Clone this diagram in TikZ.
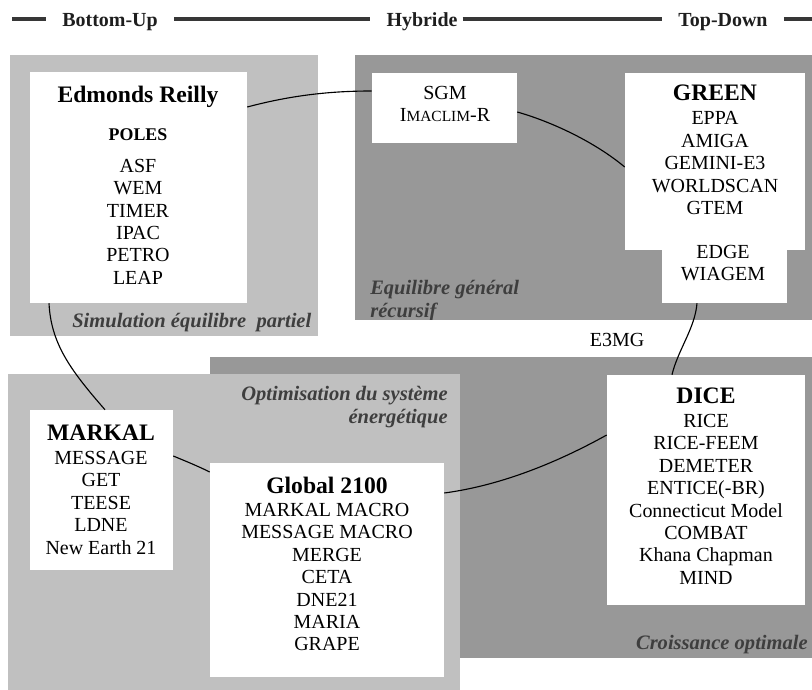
\documentclass[tikz,border=0pt]{standalone}
\usepackage{fontspec}
\setmainfont{Liberation Serif}
\usetikzlibrary{fit}

\begin{document}
\begin{tikzpicture}[x=0.025cm,y=-0.025cm,
    box/.style={fill=white,inner sep=0},
    txt/.style={font=\fontsize{14.2}{16}\selectfont,align=center,inner sep=0,anchor=north},
    ttl/.style={font=\fontsize{16.8}{18}\selectfont\bfseries,inner sep=0,anchor=base},
    zone/.style={font=\fontsize{14.6}{16.4}\selectfont\bfseries\itshape,text=zonetxt,inner sep=0},
    hdr/.style={font=\fontsize{14.2}{16}\selectfont\bfseries,text=hdrtxt,inner xsep=11.4pt,inner ysep=0,text height=11pt,text depth=0pt},
    hline/.style={line width=2.8pt,draw=hdrline},
    link/.style={line width=0.8pt}]
    \definecolor{light}{RGB}{192,192,192}
    \definecolor{dark}{RGB}{152,152,152}
    \definecolor{zonetxt}{RGB}{62,62,62}
    \definecolor{hdrtxt}{RGB}{30,30,30}
    \definecolor{hdrline}{RGB}{55,55,55}
    \useasboundingbox (0,0) rectangle (812,690);

    % header
    \node[hdr] (bu) at (110,19) {Bottom-Up};
    \node[hdr] (hy) at (422,19) {Hybride};
    \node[hdr] (td) at (723,19) {Top-Down};
    \coordinate (hl) at (12,19);
    \coordinate (hr) at (812,19);
    \draw[hline] (hl) -- (bu.west);
    \draw[hline] (bu.east) -- (hy.west);
    \draw[hline] ([xshift=-8pt]hy.east) -- (td.west);
    \draw[hline] (td.east) -- (hr);

    % zones
    \fill[light] (10,55) rectangle (318,336);
    \fill[dark] (355,55) rectangle (812,320);
    \fill[dark] (210,357) rectangle (812,658);
    \fill[light] (8,374) rectangle (460,690);

    \node[zone,anchor=base west] (sim) at (72,328) {Simulation équilibre\ \ partiel};
    \begin{scope}
      \clip (355,55) rectangle (812,320);
      \node[zone,align=left,anchor=north west] (egr) at (370,280) {Equilibre général\\récursif};
    \end{scope}
    \node[zone,align=right,anchor=north east] (opt) at (448,386) {Optimisation du système\\énergétique};
    \node[zone,anchor=base east] (co) at (808,649) {Croissance optimale};

    % model boxes
    \node[box,fit={(30,72)(247,303)}] (er) {};
    \node[box,fit={(372,73)(517,143)}] (sgm) {};
    \node[box,fit={(625,73)(805,250)}] (green) {};
    \node[box,fit={(662,249)(787,303)}] (edge) {};
    \node[box,fit={(30,410)(173,570)}] (markal) {};
    \node[box,fit={(210,463)(444,677)}] (global) {};
    \node[box,fit={(607,375)(805,605)}] (dice) {};

    \node[ttl] (er-t) at (138,103) {Edmonds Reilly};
    \node[ttl,font=\fontsize{12.7}{14}\selectfont\bfseries] (poles) at (138,141) {POLES};
    \node[txt] (er-l) at (138,158.5) {ASF\\WEM\\TIMER\\IPAC\\PETRO\\LEAP};

    \node[txt] (sgm-l) at (445,85.5) {SGM\\I{\fontsize{11}{16}\selectfont MACLIM}-R};

    \node[ttl] (green-t) at (715,101) {GREEN};
    \node[txt] (green-l) at (715,111.5) {EPPA\\AMIGA\\GEMINI-E3\\WORLDSCAN\\GTEM};
    \node[txt] (edge-l) at (723,244.5) {EDGE\\WIAGEM};

    \node[ttl] (markal-t) at (101,440) {MARKAL};
    \node[txt] (markal-l) at (101,450.5) {MESSAGE\\GET\\TEESE\\LDNE\\New Earth 21};

    \node[ttl] (global-t) at (327,493) {Global 2100};
    \node[txt] (global-l) at (327,502.5) {MARKAL MACRO\\MESSAGE MACRO\\MERGE\\CETA\\DNE21\\MARIA\\GRAPE};

    \node[ttl] (dice-t) at (706,403) {DICE};
    \node[txt] (dice-l) at (706,413.5) {RICE\\RICE-FEEM\\DEMETER\\ENTICE(-BR)\\Connecticut Model\\COMBAT\\Khana Chapman\\MIND};

    \node[font=\fontsize{14.2}{16}\selectfont,anchor=base,inner sep=0] (e3mg) at (617,347) {E3MG};

    % links
    \draw[link] (er.east |- 0,107) .. controls +(45,-12) and +(-40,0) .. (sgm.west |- 0,91);
    \draw[link] (sgm.east |- 0,112) .. controls +(35,10) and +(-30,-25) .. (green.west |- 0,167);
    \draw[link] (edge.south -| 697,0) .. controls +(-2,25) and +(6,-25) .. (dice.north -| 672,0);
    \draw[link] (dice.west |- 0,435) .. controls +(-45,25) and +(60,-8) .. (global.east |- 0,493);
    \draw[link] (global.west |- 0,472) .. controls +(-12,-6) and +(12,5) .. (markal.east |- 0,456);
    \draw[link] (markal.north -| 105,0) .. controls +(-35,-40) and +(2,40) .. (er.south -| 49,0);
  \end{tikzpicture}
\end{document}
